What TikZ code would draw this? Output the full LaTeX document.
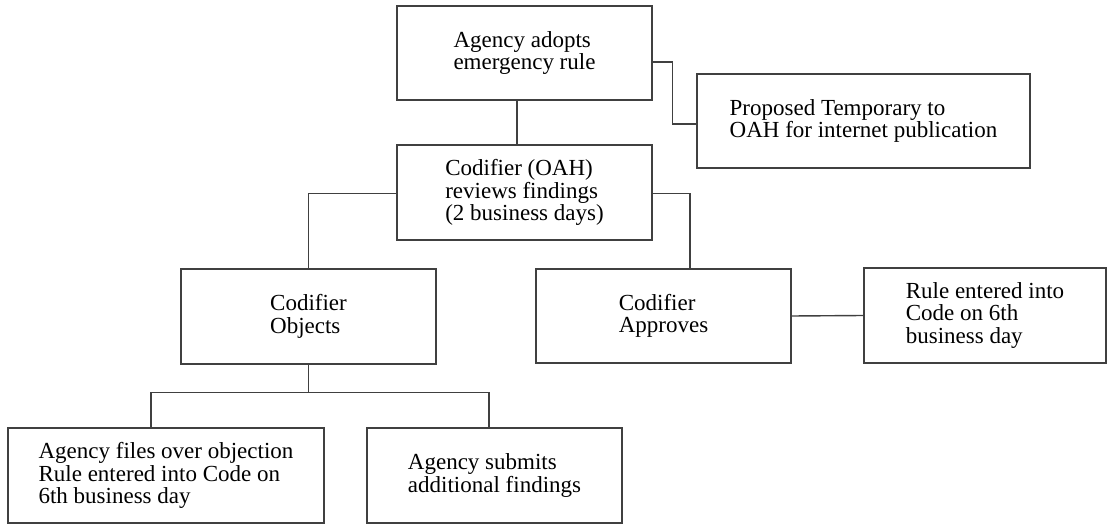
\documentclass[tikz,border=0pt]{standalone}
\usepackage{fontspec}
\setmainfont{Liberation Serif}
\usetikzlibrary{calc}
\begin{document}
\begin{tikzpicture}[x=1pt,y=-1pt,
  box/.style={draw=black!75, line width=1.4pt, align=left, inner sep=0pt,
    font=\fontsize{23}{22.5}\selectfont},
  conn/.style={draw=black!75, line width=1.4pt}]
\useasboundingbox (0,0) rectangle (1107,526);
\node[box, minimum width=255pt, minimum height=94pt] (b1) at (524.5,53) {Agency adopts\\emergency rule};
\node[box, minimum width=333pt, minimum height=94pt] (b2) at (863.5,121) {Proposed Temporary to\\OAH for internet publication};
\node[box, minimum width=255pt, minimum height=95pt] (b3) at (524.5,192.5) {Codifier (OAH)\\reviews findings\\(2 business days)};
\node[box, minimum width=255pt, minimum height=95pt] (b4) at (308.5,316.5) {Codifier\\Objects};
\node[box, minimum width=255pt, minimum height=94pt] (b5) at (663.5,316) {Codifier\\Approves};
\node[box, minimum width=242pt, minimum height=95pt] (b6) at (985,315.5) {Rule entered into\\Code on 6th\\business day};
\node[box, minimum width=316pt, minimum height=95pt] (b7) at (166,475.5) {Agency files over objection\\Rule entered into Code on\\6th business day};
\node[box, minimum width=255pt, minimum height=95pt] (b8) at (494.5,475.5) {Agency submits\\additional findings};
\draw[conn] ([xshift=-7.5pt]b1.south) -- ([xshift=-7.5pt]b3.north);
\draw[conn] ([yshift=-9pt]b1.east) -- ++(20,0) |- ([yshift=-3pt]b2.west);
\draw[conn] ([yshift=-1pt]b3.west) -| (b4.north);
\draw[conn] ([yshift=-1pt]b3.east) -| ([xshift=26.5pt]b5.north);
\draw[conn] (b5.east) -- (b6.west);
\draw[conn] (b4.south) -- ++(0,28) coordinate (j);
\draw[conn] (j) -| ([xshift=-15pt]b7.north);
\draw[conn] (j) -| ([xshift=-5.5pt]b8.north);
\end{tikzpicture}
\end{document}
